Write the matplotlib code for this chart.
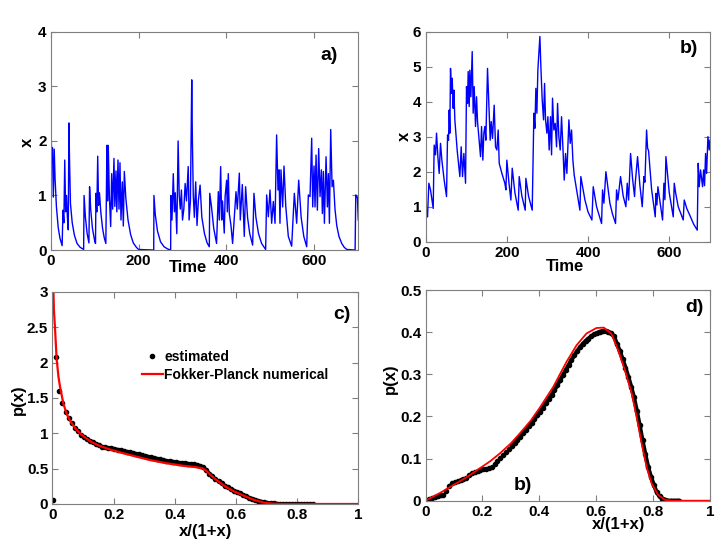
import numpy as np
import matplotlib
matplotlib.use("Agg")
import matplotlib.pyplot as plt
from matplotlib.ticker import FuncFormatter

plt.rcParams['font.family'] = ['Liberation Sans', 'DejaVu Sans']
plt.rcParams['font.weight'] = 'bold'

# ---------------- data ----------------
# panel a) time series
a_t = [0, 1, 2.5, 4, 6, 8, 10, 13, 17, 21, 26,
       28, 30, 32, 34, 36, 38, 40, 41.5, 43, 45, 49, 54, 60, 67, 75,
       76, 79, 83, 87, 88.5, 91, 95, 100, 102, 103, 105, 107, 109, 111, 114, 118, 122, 125.5,
       128, 129.5, 131, 133.5, 136.5, 138.8, 141, 144, 146, 148.6, 150.5, 153.2, 155.5, 157.7,
       160, 163, 165.3, 167.6, 171, 176, 182, 188, 195, 200, 234.5,
       235, 238, 243, 250, 258, 266, 273,
       273.6, 276, 279, 281.5, 283.5, 287, 290, 292.5, 295, 297.5, 300, 303, 306, 309, 313,
       315, 318, 321, 322.5, 324.5, 327, 330, 333, 336, 340, 344, 350, 356, 361,
       362, 366, 371, 377.5, 381.5, 383.8, 386.8, 389.1, 391, 395, 397, 400.4, 402, 404.2,
       406.5, 410.3, 414, 421.7, 424.7, 429.3, 431.5, 436.1, 440.6, 443.6, 448, 453, 459.6,
       462.6, 467, 473, 480, 489.2, 491.5, 495.3, 499.1, 502.9, 506.7, 510.5, 514.2, 517.3,
       519.6, 521.8, 524.1, 527.9, 531, 535, 540.8, 548.4, 554.5, 559.8, 564.4, 570, 576,
       582.6, 586.4, 590.2, 594, 596.3, 599.3, 601.6, 603.9, 606.9, 609.9, 613, 616, 618.3,
       620.6, 622.9, 626.7, 629.7, 632, 634.3, 637.3, 640.4, 643.4, 647, 651, 656, 662.4,
       668, 673.8, 692.8, 694.3, 697, 698, 700]
a_x = [1.25, 2.17, 1.6, 1.88, 0.97, 1.85, 1.3, 0.8, 0.42, 0.22, 0.08,
       0.73, 0.5, 1.65, 0.7, 1.0, 0.6, 0.37, 2.33, 1.6, 0.85, 0.5, 0.27, 0.12, 0.05, 0.01,
       1.0, 0.6, 0.3, 0.13, 1.16, 0.75, 0.4, 0.17, 0.12, 1.04, 0.7, 1.72, 0.82, 1.05, 0.7, 0.4, 0.22, 0.12,
       1.92, 0.9, 1.92, 1.0, 0.43, 1.4, 0.75, 1.68, 0.8, 1.45, 0.7, 1.65, 0.75, 1.6,
       0.55, 1.25, 0.44, 1.44, 0.95, 0.55, 0.28, 0.13, 0.05, 0.01, 0.0,
       1.0, 0.65, 0.35, 0.15, 0.06, 0.02, 0.0,
       1.0, 0.55, 1.4, 0.7, 1.05, 0.3, 2.0, 1.0, 0.75, 1.1, 0.55, 0.75, 1.22, 0.9, 1.53,
       0.55, 0.9, 3.12, 2.0, 1.0, 0.6, 1.25, 0.45, 0.9, 1.19, 0.6, 0.3, 0.13, 0.06,
       1.04, 0.79, 0.4, 0.12, 1.07, 0.55, 1.53, 0.55, 0.9, 0.31, 0.98, 1.28, 0.7, 1.4,
       0.67, 0.45, 0.12, 1.07, 0.75, 1.41, 0.55, 1.2, 0.25, 1.16, 0.6, 0.3, 0.09,
       1.04, 0.6, 0.3, 0.12, 0.01, 1.01, 0.61, 1.1, 0.49, 0.89, 0.49, 2.11, 1.1,
       1.47, 0.49, 1.47, 0.79, 1.54, 0.8, 0.25, 0.07, 1.04, 0.49, 1.28, 0.6, 0.25,
       0.06, 1.01, 0.98, 2.05, 0.79, 1.54, 0.79, 1.74, 0.73, 1.86, 0.98, 1.47, 0.67,
       1.44, 0.49, 1.71, 0.79, 1.4, 0.49, 2.21, 1.16, 1.28, 0.75, 0.45, 0.25, 0.12,
       0.05, 0.01, 0.0, 1.01, 0.97, 0.97, 0.55]

# panel b) time series
b_t = [0, 2.5, 4.9, 8.2, 12.3, 18.9, 21.3, 24.6, 27.1, 30.4, 33.6, 36.9, 40.2, 46, 51.7,
       54.2, 56.6, 58.3, 59.9, 61.5, 64, 65.6, 68.1, 69.8, 72.2, 78, 84.5, 87.8, 91.1,
       94.4, 98.5, 100.9, 103.4, 105, 107.5, 109.1, 111.6, 114.9, 117.3, 119.8, 123.1,
       125.6, 128, 135.4, 137.9, 141.1, 143.6, 146.1, 148.5, 152.6, 155.9, 159.2, 161.7,
       164.9, 169, 172.3, 175.6, 178.9, 181.4, 188, 195.3, 197.8, 200.2, 205.2, 210.1,
       213.4, 220, 228.1, 230.6, 237.2, 245.4, 247, 253.6, 262.6, 265, 266.7, 269.2,
       271.6, 274.1, 276.5, 279, 281.5, 283.9, 287.2, 290.5, 293, 295.4, 298.7, 301.2,
       304.4, 307.7, 310.2, 312.6, 315.9, 319.2, 322.5, 325, 328.2, 331.5, 334.8, 338.1,
       341.4, 344.6, 347.9, 352.9, 356.2, 359.4, 362.7, 366, 371.7, 380, 382.3, 392.2,
       400, 409.5, 412.8, 421, 433.3, 435.7, 439, 444, 453.8, 460, 467.7, 470.2, 473.5,
       480, 486.6, 493.2, 496.5, 499.8, 504.7, 509.6, 514.5, 516.2, 521.9, 527.7, 533.4,
       537.5, 540, 544.1, 546.6, 549, 556.4, 565.4, 567.1, 569.5, 572, 575.2, 583.4, 586.7,
       589.2, 591.7, 599.9, 609.7, 612.2, 615.5, 622, 634.3, 636.8, 643, 650.7, 660, 668.8,
       671.2, 673.7, 677, 681.9, 684.4, 686.8, 689.3, 691.8, 695.1, 698.3, 700]
b_x = [1.0, 0.9, 0.71, 1.67, 1.48, 0.95, 2.76, 2.48, 3.1, 2.43, 1.95, 2.81, 2.33, 1.75, 1.29,
       3.05, 2.9, 3.76, 3.1, 4.95, 4.24, 4.67, 3.81, 4.33, 3.48, 2.6, 1.86, 2.71, 1.86,
       2.52, 1.67, 4.43, 3.95, 4.86, 3.86, 4.9, 4.14, 5.43, 3.67, 4.43, 3.29,
       4.14, 3.43, 2.43, 3.29, 2.33, 3.1, 3.29, 2.9, 4.95, 3.9, 2.9, 3.43,
       2.95, 3.9, 2.71, 2.62, 3.19, 2.24, 1.95, 1.67, 1.48, 2.33, 1.7, 1.19,
       2.1, 1.4, 0.9, 1.86, 1.3, 0.9, 1.81, 1.3, 0.9, 2.62, 3.67, 3.24,
       4.38, 3.67, 4.9, 5.38, 5.86, 5.0, 4.05, 3.48, 4.52, 3.48, 3.1, 3.57,
       2.62, 3.57, 2.48, 4.1, 3.19, 3.38, 2.71, 3.95, 3.0, 2.62, 3.57, 2.71,
       1.76, 2.52, 1.95, 3.48, 2.81, 3.19, 2.33, 1.9, 1.5, 0.9, 1.86, 1.2,
       0.85, 0.62, 1.57, 1.0, 0.52, 1.48, 1.1, 2.0, 1.1, 0.8, 0.52, 1.48, 1.19,
       1.86, 1.3, 1.0, 1.67, 1.19, 2.52, 1.8, 1.29, 1.67, 2.43, 1.6, 1.0,
       1.86, 1.7, 3.19, 2.67, 2.6, 1.5, 0.71, 1.38, 1.05, 1.57, 1.3, 0.62, 1.67,
       1.2, 2.43, 1.4, 0.71, 1.67, 1.4, 1.0, 0.62, 1.19, 0.95, 0.75, 0.5, 0.33,
       2.24, 1.57, 2.05, 1.57, 2.05, 1.6, 2.52, 1.95, 3.0, 2.62, 2.9]

# panel c) density: estimated (dots, x step 0.01 from 0.003) and Fokker-Planck curve
c_est_y = [0.06, 2.08, 1.6, 1.43, 1.3, 1.22, 1.14, 1.08, 1.03, 0.98,
           0.95, 0.92, 0.89, 0.87, 0.85, 0.83, 0.81, 0.80, 0.79, 0.785,
           0.78, 0.77, 0.76, 0.75, 0.74, 0.73, 0.72, 0.71, 0.70, 0.69,
           0.68, 0.67, 0.66, 0.65, 0.64, 0.63, 0.62, 0.61, 0.605, 0.60,
           0.59, 0.585, 0.58, 0.575, 0.57, 0.565, 0.56, 0.55, 0.54, 0.52,
           0.48, 0.43, 0.39, 0.35, 0.32, 0.29, 0.26, 0.235, 0.21, 0.19,
           0.17, 0.15, 0.13, 0.11, 0.09, 0.075, 0.06, 0.045, 0.035, 0.025,
           0.017, 0.012, 0.008, 0.005, 0.003, 0.002, 0.001, 0.0, 0.0, 0.0,
           0.0, 0.0, 0.0, 0.0, 0.0, 0.0]
c_fp_x = [0.002, 0.005, 0.009, 0.014, 0.02, 0.025, 0.036, 0.047, 0.06, 0.075, 0.09,
          0.11, 0.13, 0.156, 0.188, 0.221, 0.265, 0.32, 0.374, 0.428, 0.47, 0.49,
          0.50, 0.515, 0.53, 0.548, 0.57, 0.59, 0.624, 0.657, 0.69, 0.72, 0.75, 1.0]
c_fp_y = [3.3, 2.75, 2.46, 2.05, 1.8, 1.66, 1.42, 1.27, 1.16, 1.07, 1.0,
          0.93, 0.87, 0.82, 0.77, 0.73, 0.68, 0.62, 0.575, 0.54, 0.52, 0.505,
          0.48, 0.42, 0.36, 0.30, 0.235, 0.185, 0.12, 0.06, 0.02, 0.005, 0.0, 0.0]

# panel d) density
d_est_y = [0.0, 0.003, 0.006, 0.009, 0.011, 0.013, 0.013, 0.024, 0.035, 0.042,
           0.045, 0.047, 0.05, 0.052, 0.055, 0.061, 0.066, 0.069, 0.071, 0.073,
           0.075, 0.076, 0.077, 0.081, 0.087, 0.094, 0.101, 0.108, 0.115, 0.123,
           0.13, 0.137, 0.145, 0.152, 0.16, 0.168, 0.177, 0.185, 0.194, 0.203,
           0.211, 0.221, 0.231, 0.241, 0.251, 0.262, 0.274, 0.286, 0.298, 0.31,
           0.322, 0.334, 0.345, 0.355, 0.364, 0.372, 0.379, 0.385, 0.39, 0.395,
           0.398, 0.401, 0.403, 0.403, 0.401, 0.397, 0.39, 0.372, 0.356, 0.336,
           0.316, 0.294, 0.271, 0.245, 0.213, 0.179, 0.143, 0.11, 0.079, 0.056,
           0.037, 0.02, 0.01, 0.005, 0.002, 0.0, 0.0, 0.0, 0.0, 0.0]
d_fp_x = [0.0, 0.05, 0.1, 0.15, 0.191, 0.226, 0.261, 0.3, 0.332, 0.37, 0.402, 0.449,
          0.496, 0.531, 0.566, 0.601, 0.627, 0.654, 0.677, 0.701, 0.725, 0.742, 0.76,
          0.777, 0.795, 0.818, 0.842, 0.865, 1.0]
d_fp_y = [0.0, 0.018, 0.038, 0.058, 0.077, 0.093, 0.112, 0.136, 0.16, 0.19, 0.221, 0.27,
          0.33, 0.369, 0.397, 0.41, 0.411, 0.396, 0.358, 0.31, 0.255, 0.2, 0.136,
          0.081, 0.041, 0.0135, 0.002, 0.0, 0.0]

c_est_x = 0.003 + 0.01 * np.arange(len(c_est_y))
d_est_x = 0.003 + 0.01 * np.arange(len(d_est_y))

# ---------------- figure ----------------
fig = plt.figure(figsize=(7.2, 5.4), dpi=100)
axa = fig.add_axes([0.0704, 0.537, 0.4272, 0.404])
axb = fig.add_axes([0.591, 0.5524, 0.395, 0.389])
axc = fig.add_axes([0.0727, 0.0667, 0.425, 0.393])
axd = fig.add_axes([0.591, 0.0728, 0.395, 0.390])

fmt = FuncFormatter(lambda v, p: ('%g' % round(v, 6)))
GRAY = '#7f7f7f'


def style(ax):
    for s in ax.spines.values():
        s.set_color(GRAY)
        s.set_linewidth(0.8)
    ax.tick_params(direction='in', length=4, width=0.8, color=GRAY,
                   top=True, right=True, labelsize=11, pad=3, labelcolor='black')
    ax.xaxis.set_major_formatter(fmt)
    ax.yaxis.set_major_formatter(fmt)
    for lab in ax.get_xticklabels() + ax.get_yticklabels():
        lab.set_fontweight('bold')


BLUE = '#0000ff'
axa.plot(a_t, a_x, color=BLUE, lw=1.0)
axa.set_xlim(0, 700)
axa.set_ylim(0, 4)
axa.set_xticks([0, 200, 400, 600])
axa.set_yticks([0, 1, 2, 3, 4])
style(axa)
axa.text(0.446, -0.08, 'Time', transform=axa.transAxes, ha='center', va='center',
         fontsize=12, fontweight='bold')
axa.text(-0.076, 0.495, 'x', transform=axa.transAxes, ha='center', va='center',
         rotation=90, fontsize=12, fontweight='bold')
axa.text(0.905, 0.893, 'a)', transform=axa.transAxes, ha='center', va='center',
         fontsize=14, fontweight='bold')

axb.plot(b_t, b_x, color=BLUE, lw=1.0)
axb.set_xlim(0, 700)
axb.set_ylim(0, 6)
axb.set_xticks([0, 200, 400, 600])
axb.set_yticks([0, 1, 2, 3, 4, 5, 6])
style(axb)
axb.text(0.49, -0.118, 'Time', transform=axb.transAxes, ha='center', va='center',
         fontsize=12, fontweight='bold')
axb.text(-0.075, 0.5, 'x', transform=axb.transAxes, ha='center', va='center',
         rotation=90, fontsize=12, fontweight='bold')
axb.text(0.926, 0.918, 'b)', transform=axb.transAxes, ha='center', va='center',
         fontsize=14, fontweight='bold')

# estimated points are so dense beyond the first few that they merge into a band
nc = 15
axc.plot(c_est_x[nc:], c_est_y[nc:], color='black', lw=2.6, solid_capstyle='round')
axc.plot(c_est_x, c_est_y, linestyle='none', marker='o', markersize=3,
         color='black', label='estimated')
axc.plot(c_fp_x, c_fp_y, color='red', lw=1.6, label='Fokker-Planck numerical')
axc.set_xlim(0, 1)
axc.set_ylim(0, 3)
axc.set_xticks([0, 0.2, 0.4, 0.6, 0.8, 1])
axc.set_yticks([0, 0.5, 1, 1.5, 2, 2.5, 3])
style(axc)
axc.text(0.5, -0.132, 'x/(1+x)', transform=axc.transAxes, ha='center', va='center',
         fontsize=12, fontweight='bold')
axc.text(-0.112, 0.49, 'p(x)', transform=axc.transAxes, ha='center', va='center',
         rotation=90, fontsize=12, fontweight='bold')
axc.text(0.948, 0.895, 'c)', transform=axc.transAxes, ha='center', va='center',
         fontsize=14, fontweight='bold')
leg = axc.legend(loc='upper left', bbox_to_anchor=(0.293, 0.725), frameon=False,
                 handlelength=1.5, handletextpad=0.1, labelspacing=0.25,
                 borderpad=0, borderaxespad=0, numpoints=1,
                 prop={'weight': 'bold', 'size': 10})

nd = 30
axd.plot(d_est_x[nd:], d_est_y[nd:], color='black', lw=3.0, solid_capstyle='round')
axd.plot(d_est_x, d_est_y, linestyle='none', marker='o', markersize=3,
         color='black')
axd.plot(d_fp_x, d_fp_y, color='red', lw=1.3)
axd.set_xlim(0, 1)
axd.set_ylim(0, 0.5)
axd.set_xticks([0, 0.2, 0.4, 0.6, 0.8, 1])
axd.set_yticks([0, 0.1, 0.2, 0.3, 0.4, 0.5])
style(axd)
axd.text(0.68, -0.115, 'x/(1+x)', transform=axd.transAxes, ha='center', va='center',
         fontsize=12, fontweight='bold')
axd.text(-0.125, 0.58, 'p(x)', transform=axd.transAxes, ha='center', va='center',
         rotation=90, fontsize=12, fontweight='bold')
axd.text(0.947, 0.915, 'd)', transform=axd.transAxes, ha='center', va='center',
         fontsize=14, fontweight='bold')
axd.text(0.341, 0.037, 'b)', ha='center', va='center', fontsize=14, fontweight='bold')

fig.savefig('out.png', dpi=100)
